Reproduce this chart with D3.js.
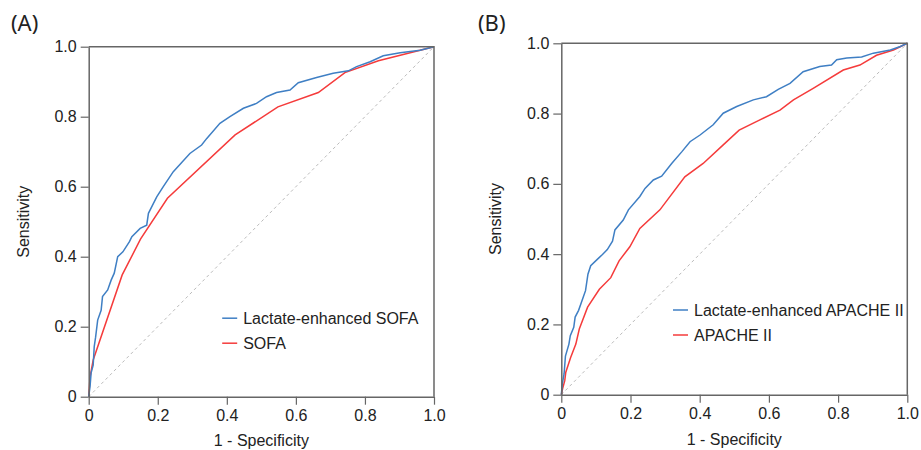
<!DOCTYPE html>
<html>
<head>
<meta charset="utf-8">
<script src="https://cdn.jsdelivr.net/npm/d3@7"></script>
<style>
  body { margin: 0; background: #fff; }
  text { font-family: "Liberation Sans", Arial, sans-serif; fill: #222; }
</style>
</head>
<body>
<div id="chart"></div>
<script>
// ROC points: [1 - specificity, sensitivity]
const leSofa = [[0,0],[.004,.03],[.007,.068],[.013,.09],[.016,.143],[.02,.17],[.026,.219],[.036,.247],[.04,.286],[.055,.305],[.065,.333],[.074,.353],[.084,.40],[.099,.414],[.118,.443],[.125,.457],[.149,.481],[.168,.49],[.173,.524],[.197,.571],[.216,.60],[.245,.643],[.27,.67],[.293,.695],[.327,.719],[.342,.738],[.38,.781],[.409,.80],[.448,.824],[.486,.838],[.515,.857],[.544,.869],[.583,.876],[.607,.897],[.66,.912],[.708,.924],[.752,.931],[.776,.943],[.815,.957],[.853,.974],[.902,.983],[.96,.99],[1,1]]
const sofa = [[0,0],[.004,.057],[.013,.105],[.097,.348],[.15,.45],[.228,.567],[.424,.748],[.548,.828],[.665,.869],[.742,.926],[.839,.96],[1,1]]
const leApache = [[0,0],[.003,.031],[.008,.059],[.012,.11],[.022,.144],[.026,.168],[.036,.192],[.04,.221],[.05,.24],[.06,.268],[.07,.296],[.077,.343],[.085,.367],[.104,.385],[.119,.399],[.133,.413],[.148,.437],[.155,.469],[.179,.497],[.194,.526],[.227,.564],[.242,.587],[.266,.611],[.29,.622],[.319,.658],[.348,.691],[.372,.72],[.401,.739],[.439,.768],[.468,.801],[.507,.82],[.555,.839],[.593,.848],[.627,.869],[.661,.886],[.699,.919],[.747,.934],[.781,.938],[.796,.953],[.825,.958],[.868,.961],[.902,.972],[.951,.981],[.98,.991],[1,1]]
const apache = [[0,0],[.004,.018],[.01,.04],[.013,.064],[.027,.106],[.042,.144],[.052,.187],[.076,.249],[.11,.30],[.143,.333],[.167,.381],[.198,.421],[.227,.473],[.285,.526],[.357,.62],[.41,.658],[.468,.711],[.514,.753],[.574,.782],[.632,.81],[.671,.839],[.728,.872],[.815,.924],[.863,.938],[.911,.966],[.96,.981],[1,1]]

const tickValues = [0, 0.2, 0.4, 0.6, 0.8, 1.0]
const tickLabels = ['0', '0.2', '0.4', '0.6', '0.8', '1.0']

const blue = '#3f7fc4'
const red = '#f53b3b'

const svg = d3
  .select('#chart')
  .append('svg')
  .attr('width', 921)
  .attr('height', 450)

function drawPanel(opts) {
  const g = svg
    .append('g')
    .attr('transform', 'translate(' + opts.left + ',' + opts.top + ')')

  const x = d3.scaleLinear().domain([0, 1]).range([0, opts.width])
  const y = d3.scaleLinear().domain([0, 1]).range([opts.height, 0])

  // chance line
  g.append('line')
    .attr('x1', x(0)).attr('y1', y(0))
    .attr('x2', x(1)).attr('y2', y(1))
    .attr('stroke', '#bbb')
    .attr('stroke-width', 1)
    .attr('stroke-dasharray', '3,3')

  const line = d3.line()
    .x(d => x(d[0]))
    .y(d => y(d[1]))

  g.append('path')
    .datum(opts.red)
    .attr('fill', 'none')
    .attr('stroke', red)
    .attr('stroke-width', 1.5)
    .attr('d', line)

  g.append('path')
    .datum(opts.blue)
    .attr('fill', 'none')
    .attr('stroke', blue)
    .attr('stroke-width', 1.5)
    .attr('d', line)

  // top and right frame
  g.append('path')
    .attr('d', 'M' + x(0) + ',' + y(1) + 'H' + x(1) + 'V' + y(0))
    .attr('fill', 'none')
    .attr('stroke', '#666')
    .attr('stroke-width', 1.5)

  const fmt = d => tickLabels[tickValues.indexOf(d)]

  const xAxis = g.append('g')
    .attr('transform', 'translate(0,' + opts.height + ')')
    .call(d3.axisBottom(x).tickValues(tickValues).tickFormat(fmt).tickSize(8).tickSizeOuter(0).tickPadding(5))
  const yAxis = g.append('g')
    .call(d3.axisLeft(y).tickValues(tickValues).tickFormat(fmt).tickSize(8).tickSizeOuter(0).tickPadding(4))

  ;[xAxis, yAxis].forEach(a => {
    a.select('.domain').attr('stroke', '#666').attr('stroke-width', 1.5)
    a.selectAll('.tick line').attr('stroke', '#666').attr('stroke-width', 1.2)
    a.selectAll('.tick text').attr('font-size', 16).attr('fill', '#222')
      .style('font-family', '"Liberation Sans", Arial, sans-serif')
  })

  g.append('text')
    .attr('text-anchor', 'middle')
    .attr('font-size', 16)
    .attr('x', opts.width / 2)
    .attr('y', opts.height + opts.xTitleGap)
    .text('1 - Specificity')

  g.append('text')
    .attr('text-anchor', 'middle')
    .attr('font-size', 16)
    .attr('transform', 'translate(-60,' + opts.height / 2 + ') rotate(-90)')
    .text('Sensitivity')

  svg.append('text')
    .attr('x', opts.tagX)
    .attr('y', 31)
    .attr('font-size', 22)
    .style('font-family', '"Noto Sans", "DejaVu Sans", sans-serif')
    .text(opts.tag)

  // legend
  const legend = g.append('g')
    .attr('transform', 'translate(' + opts.legendX + ',' + opts.legendY + ')')
  const items = [[opts.blueName, blue], [opts.redName, red]]
  items.forEach((it, i) => {
    legend.append('line')
      .attr('x1', 0).attr('x2', 15)
      .attr('y1', i * 25).attr('y2', i * 25)
      .attr('stroke', it[1])
      .attr('stroke-width', 1.5)
    legend.append('text')
      .attr('x', 21)
      .attr('y', i * 25)
      .attr('dy', '0.35em')
      .attr('font-size', 16)
      .text(it[0])
  })
}

drawPanel({
  left: 88.7, top: 46.7, width: 345.3, height: 350,
  blue: leSofa, red: sofa,
  blueName: 'Lactate-enhanced SOFA', redName: 'SOFA',
  tag: '(A)', tagX: 11,
  legendX: 133.5, legendY: 271.5,
  xTitleGap: 49
})

drawPanel({
  left: 561.3, top: 43.3, width: 346, height: 351.4,
  blue: leApache, red: apache,
  blueName: 'Lactate-enhanced APACHE II', redName: 'APACHE II',
  tag: '(B)', tagX: 478,
  legendX: 111.7, legendY: 266.7,
  xTitleGap: 50
})
</script>
</body>
</html>
